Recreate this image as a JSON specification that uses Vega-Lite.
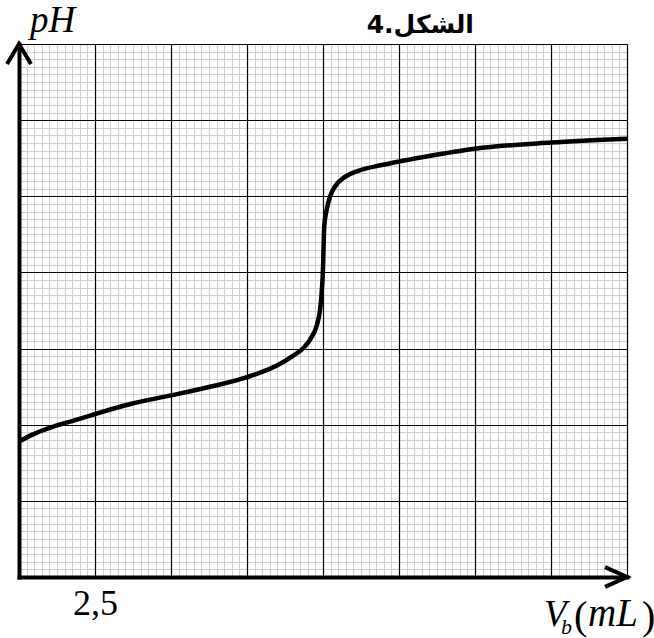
{
  "$schema": "https://vega.github.io/schema/vega-lite/v6.json",
  "width": 608,
  "height": 533,
  "autosize": "none",
  "padding": {"left": 19, "top": 44, "right": 27, "bottom": 61},
  "background": "white",
  "config": {"view": {"stroke": null}},
  "data": {
    "values": [
      {"V": 0, "pH": 3.56},
      {"V": 0.5, "pH": 3.76},
      {"V": 1.2, "pH": 3.97},
      {"V": 1.85, "pH": 4.12},
      {"V": 2.5, "pH": 4.28},
      {"V": 3.7, "pH": 4.55},
      {"V": 5, "pH": 4.77},
      {"V": 6.25, "pH": 4.99},
      {"V": 7.5, "pH": 5.25},
      {"V": 8.5, "pH": 5.56},
      {"V": 9, "pH": 5.8},
      {"V": 9.4, "pH": 6.05},
      {"V": 9.6, "pH": 6.27},
      {"V": 9.8, "pH": 6.62},
      {"V": 9.9, "pH": 7.0},
      {"V": 9.95, "pH": 7.4},
      {"V": 10.0, "pH": 8.1},
      {"V": 10.04, "pH": 9.2},
      {"V": 10.12, "pH": 9.64},
      {"V": 10.23, "pH": 9.99},
      {"V": 10.39, "pH": 10.25},
      {"V": 10.72, "pH": 10.51},
      {"V": 11.16, "pH": 10.67},
      {"V": 11.93, "pH": 10.82},
      {"V": 12.48, "pH": 10.91},
      {"V": 13.36, "pH": 11.04},
      {"V": 15, "pH": 11.25},
      {"V": 17.5, "pH": 11.41},
      {"V": 20, "pH": 11.51}
    ]
  },
  "layer": [
    {
      "mark": {"type": "line", "opacity": 0},
      "encoding": {
        "x": {
          "field": "V", "type": "quantitative",
          "scale": {"domain": [0, 20], "nice": false, "zero": false},
          "axis": {
            "orient": "bottom", "zindex": 0,
            "values": [0,0.25,0.5,0.75,1,1.25,1.5,1.75,2,2.25,2.5,2.75,3,3.25,3.5,3.75,4,4.25,4.5,4.75,5,5.25,5.5,5.75,6,6.25,6.5,6.75,7,7.25,7.5,7.75,8,8.25,8.5,8.75,9,9.25,9.5,9.75,10,10.25,10.5,10.75,11,11.25,11.5,11.75,12,12.25,12.5,12.75,13,13.25,13.5,13.75,14,14.25,14.5,14.75,15,15.25,15.5,15.75,16,16.25,16.5,16.75,17,17.25,17.5,17.75,18,18.25,18.5,18.75,19,19.25,19.5,19.75,20],
            "grid": true, "gridColor": "#cfcfcf", "gridWidth": 1, "gridOpacity": 1,
            "domain": false, "ticks": false, "labels": false, "title": null
          }
        },
        "y": {
          "field": "pH", "type": "quantitative",
          "scale": {"domain": [0, 14], "nice": false, "zero": false},
          "axis": {
            "orient": "left", "zindex": 0,
            "values": [0,0.2,0.4,0.6,0.8,1,1.2,1.4,1.6,1.8,2,2.2,2.4,2.6,2.8,3,3.2,3.4,3.6,3.8,4,4.2,4.4,4.6,4.8,5,5.2,5.4,5.6,5.8,6,6.2,6.4,6.6,6.8,7,7.2,7.4,7.6,7.8,8,8.2,8.4,8.6,8.8,9,9.2,9.4,9.6,9.8,10,10.2,10.4,10.6,10.8,11,11.2,11.4,11.6,11.8,12,12.2,12.4,12.6,12.8,13,13.2,13.4,13.6,13.8,14],
            "grid": true, "gridColor": "#cfcfcf", "gridWidth": 1, "gridOpacity": 1,
            "domain": false, "ticks": false, "labels": false, "title": null
          }
        }
      }
    },
    {
      "mark": {"type": "line", "stroke": "black", "strokeWidth": 4.5, "interpolate": "monotone"},
      "encoding": {
        "x": {
          "field": "V", "type": "quantitative",
          "axis": {
            "orient": "bottom", "zindex": 1,
            "values": [0, 2.5, 5, 7.5, 10, 12.5, 15, 17.5, 20],
            "grid": true, "gridColor": "black", "gridWidth": 1.2, "gridOpacity": 1,
            "domain": true, "domainColor": "black", "domainWidth": 4, "domainCap": "square",
            "ticks": false,
            "labels": true,
            "labelExpr": "datum.value == 2.5 ? '2,5' : ''",
            "labelFont": "Liberation Serif", "labelFontSize": 36, "labelColor": "black",
            "labelBaseline": "alphabetic", "labelPadding": 37, "labelOverlap": false,
            "title": null
          }
        },
        "y": {
          "field": "pH", "type": "quantitative",
          "axis": {
            "orient": "left", "zindex": 1,
            "values": [0, 2, 4, 6, 8, 10, 12, 14],
            "grid": true, "gridColor": "black", "gridWidth": 1.2, "gridOpacity": 1,
            "domain": true, "domainColor": "black", "domainWidth": 4, "domainCap": "square",
            "ticks": false, "labels": false, "title": null
          }
        }
      }
    },
    {
      "data": {"values": [{}]},
      "mark": {"type": "point", "shape": "M-1,-0.45 L0,0 L-1,0.45", "size": 1936, "filled": false, "stroke": "black", "strokeWidth": 4, "strokeJoin": "miter", "opacity": 1},
      "encoding": {
        "x": {"datum": 20, "type": "quantitative", "axis": null},
        "y": {"datum": 0, "type": "quantitative", "axis": null}
      }
    },
    {
      "data": {"values": [{}]},
      "mark": {"type": "point", "shape": "M-0.6,1 L0,0 L0.6,1", "size": 1600, "filled": false, "stroke": "black", "strokeWidth": 4, "strokeJoin": "miter", "opacity": 1},
      "encoding": {
        "x": {"datum": 0, "type": "quantitative", "axis": null},
        "y": {"datum": 14, "type": "quantitative", "axis": null}
      }
    },
    {
      "data": {"values": [{}]},
      "mark": {"type": "text", "text": "pH", "font": "Liberation Serif", "fontStyle": "italic", "fontSize": 37, "align": "left", "baseline": "alphabetic", "dx": 11, "dy": -12, "color": "black"},
      "encoding": {
        "x": {"datum": 0, "type": "quantitative", "axis": null},
        "y": {"datum": 14, "type": "quantitative", "axis": null}
      }
    },
    {
      "data": {"values": [{}]},
      "mark": {"type": "text", "text": "4.الشكل", "font": "DejaVu Sans", "fontWeight": "bold", "fontSize": 25, "align": "center", "baseline": "alphabetic", "dy": -11, "color": "black"},
      "encoding": {
        "x": {"datum": 13.2, "type": "quantitative", "axis": null},
        "y": {"datum": 14, "type": "quantitative", "axis": null}
      }
    },
    {
      "data": {"values": [{}]},
      "mark": {"type": "text", "text": "V", "font": "Liberation Serif", "fontStyle": "italic", "fontSize": 37, "align": "left", "baseline": "alphabetic", "dx": -83, "dy": 49, "color": "black"},
      "encoding": {
        "x": {"datum": 20, "type": "quantitative", "axis": null},
        "y": {"datum": 0, "type": "quantitative", "axis": null}
      }
    },
    {
      "data": {"values": [{}]},
      "mark": {"type": "text", "text": "b", "font": "Liberation Serif", "fontStyle": "italic", "fontSize": 22, "align": "left", "baseline": "alphabetic", "dx": -66, "dy": 57, "color": "black"},
      "encoding": {
        "x": {"datum": 20, "type": "quantitative", "axis": null},
        "y": {"datum": 0, "type": "quantitative", "axis": null}
      }
    },
    {
      "data": {"values": [{}]},
      "mark": {"type": "text", "text": "(", "font": "Liberation Serif", "fontSize": 40, "align": "left", "baseline": "alphabetic", "dx": -53, "dy": 52, "color": "black"},
      "encoding": {
        "x": {"datum": 20, "type": "quantitative", "axis": null},
        "y": {"datum": 0, "type": "quantitative", "axis": null}
      }
    },
    {
      "data": {"values": [{}]},
      "mark": {"type": "text", "text": "mL", "font": "Liberation Serif", "fontStyle": "italic", "fontSize": 39, "align": "left", "baseline": "alphabetic", "dx": -39, "dy": 49, "color": "black"},
      "encoding": {
        "x": {"datum": 20, "type": "quantitative", "axis": null},
        "y": {"datum": 0, "type": "quantitative", "axis": null}
      }
    },
    {
      "data": {"values": [{}]},
      "mark": {"type": "text", "text": ")", "font": "Liberation Serif", "fontSize": 40, "align": "left", "baseline": "alphabetic", "dx": 15, "dy": 52, "color": "black"},
      "encoding": {
        "x": {"datum": 20, "type": "quantitative", "axis": null},
        "y": {"datum": 0, "type": "quantitative", "axis": null}
      }
    }
  ],
  "resolve": {"axis": {"x": "independent", "y": "independent"}}
}
